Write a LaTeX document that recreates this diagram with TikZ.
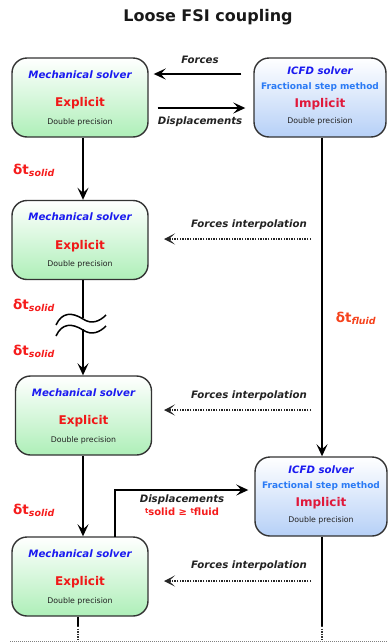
\documentclass[tikz,border=0pt]{standalone}
\usepackage{fontspec}
\setmainfont{DejaVu Sans}
\usetikzlibrary{arrows.meta,calc}
\definecolor{mblue}{HTML}{1A1AF0}
\definecolor{fblue}{HTML}{2A7AF5}
\definecolor{exred}{HTML}{F01818}
\definecolor{imred}{HTML}{E0183A}
\definecolor{dtred}{HTML}{F51C1C}
\definecolor{dtorange}{HTML}{F5421C}
\definecolor{gbot}{HTML}{AEEFB8}
\definecolor{bbot}{HTML}{B6D0F7}
\definecolor{edge}{HTML}{333333}
\definecolor{lbl}{HTML}{222222}
\tikzset{
  mbox/.style={draw=edge, line width=1.4pt, rounded corners=15pt, top color=white, bottom color=gbot, minimum width=136pt, minimum height=79pt, inner sep=0pt},
  fbox/.style={draw=edge, line width=1.4pt, rounded corners=15pt, top color=white, bottom color=bbot, minimum width=132pt, minimum height=79pt, inner sep=0pt},
  msolver/.style={font=\fontsize{10.2}{12}\selectfont\bfseries\itshape, text=mblue, inner sep=0pt},
  fsolver/.style={font=\fontsize{10.2}{12}\selectfont\bfseries\itshape, text=mblue, inner sep=0pt},
  frac/.style={font=\fontsize{9}{11}\selectfont\bfseries, text=fblue, inner sep=0pt},
  expl/.style={font=\fontsize{12}{14}\selectfont\bfseries, text=exred, inner sep=0pt},
  impl/.style={font=\fontsize{12}{14}\selectfont\bfseries, text=imred, inner sep=0pt},
  dprec/.style={font=\fontsize{7.8}{9}\selectfont, text=lbl, inner sep=0pt},
  arrlbl/.style={font=\fontsize{10.2}{12}\selectfont\bfseries\itshape, text=lbl, inner sep=0pt},
  dts/.style={font=\fontsize{13.5}{16}\selectfont\bfseries, text=dtred, inner sep=0pt},
  dtf/.style={font=\fontsize{13.5}{16}\selectfont\bfseries, text=dtorange, inner sep=0pt},
  conn/.style={line width=2.2pt, black, -{Stealth[length=12pt,width=11pt,inset=5pt]}},
  plain/.style={line width=2.2pt, black},
  interp/.style={line width=2pt, black!85, dash pattern=on 1.4pt off 1.2pt, -{Stealth[length=11pt,width=11pt,inset=6pt]}},
  dotline/.style={line width=2pt, black!80, dash pattern=on 1.4pt off 1.2pt},
}
\newcommand{\dtsolid}{δt\textsubscript{\itshape solid}}
\newcommand{\dtfluid}{δt\textsubscript{\itshape fluid}}
\begin{document}
\begin{tikzpicture}[x=1pt,y=-1pt]
\useasboundingbox (0,0) rectangle (388,643);
% title
\node[font=\fontsize{16}{19}\selectfont\bfseries, text=black!90] (title) at (208,17) {Loose FSI coupling};
% boxes
\node[mbox] (M1) at (80,97.5) {};
\node[fbox] (F1) at (320,97.5) {};
\node[mbox] (M2) at (80,240) {};
\node[mbox] (M3) at (83.5,415.5) {};
\node[fbox] (F2) at (321,496.5) {};
\node[mbox] (M4) at (80,576.5) {};
% box texts
\foreach \b in {M1,M2,M3,M4}{
  \node[msolver] at ($(\b.north)+(0,17)$) {Mechanical solver};
  \node[expl] at ($(\b.north)+(0,46)$) {Explicit};
  \node[dprec] at ($(\b.north)+(0,65)$) {Double precision};
}
\foreach \b in {F1,F2}{
  \node[fsolver] at ($(\b.north)+(0,13)$) {ICFD solver};
  \node[frac] at ($(\b.north)+(0,30)$) {Fractional step method};
  \node[impl] at ($(\b.north)+(0,47)$) {Implicit};
  \node[dprec] at ($(\b.north)+(0,64)$) {Double precision};
}
% top exchange
\draw[conn] ($(F1.west)+(-12,-23.5)$) -- ($(M1.east)+(5,-23.5)$);
\node[arrlbl] (lf) at (200,60) {Forces};
\draw[conn] ($(M1.east)+(9,10.5)$) -- ($(F1.west)+(-8,10.5)$);
\node[arrlbl] (ld) at (200,122) {Displacements};
% solid time steps
\coordinate (cx) at (83,0);
\draw[conn] (M1.south -| cx) -- (M2.north -| cx);
\node[dts] (d1) at (34,170) {\dtsolid};
\coordinate (b1) at (83,318);
\coordinate (b2) at (83,329);
\draw[plain] (M2.south -| cx) -- (b1);
\draw[conn] (b2) -- (M3.north -| cx);
\draw[line width=1.5pt] (56,325) .. controls (62,312) and (72,312) .. (83,319) .. controls (92,325) and (100,321) .. (106,315);
\draw[line width=1.5pt] (56,336) .. controls (62,323) and (72,323) .. (83,330) .. controls (92,336) and (100,332) .. (106,326);
\node[dts] (d2) at (34,305) {\dtsolid};
\node[dts] (d3) at (34,351) {\dtsolid};
\draw[conn] (M3.south -| cx) -- (M4.north -| cx);
\node[dts] (d4) at (34,510) {\dtsolid};
% fluid time step
\coordinate (fx) at (322,0);
\draw[conn] (F1.south -| fx) -- (F2.north -| fx);
\node[dtf] (df) at (356,318) {\dtfluid};
% force interpolations
\coordinate (s2) at (311,239);
\draw[interp] (s2) -- (164,239);
\node[arrlbl] (li2) at (249,225) {Forces interpolation};
\coordinate (s3) at (311,410);
\draw[interp] (s3) -- (164,410);
\node[arrlbl] (li3) at (249,396) {Forces interpolation};
\coordinate (s4) at (311,581);
\draw[interp] (s4) -- (164,581);
\node[arrlbl] (li4) at (249,566) {Forces interpolation};
% displacements to F2
\coordinate (dstart) at (115,537);
\draw[conn] (dstart) -- (115,490) -- ($(F2.west)+(-6,-6.5)$);
\node[arrlbl] (ld2) at (182,500) {Displacements};
\node[font=\fontsize{10}{12}\selectfont\bfseries, text=dtred, inner sep=0pt] (ineq) at (182,512) {\raisebox{2.5pt}{\fontsize{7}{8}\selectfont t}solid ≥ \raisebox{2.5pt}{\fontsize{7}{8}\selectfont t}fluid};
% bottom continuation
\coordinate (e1) at (78,626);
\coordinate (e2) at (78,641);
\coordinate (f1) at (322,626);
\coordinate (f2) at (322,641);
\draw[plain] (M4.south -| e1) -- (e1);
\draw[dotline] (e1) -- (e2);
\draw[plain] (F2.south -| f1) -- (f1);
\draw[dotline] (f1) -- (f2);
\draw[gray, line width=0.6pt, dash pattern=on 1pt off 1pt] (10,641.5) -- (388,641.5);
\end{tikzpicture}
\end{document}
